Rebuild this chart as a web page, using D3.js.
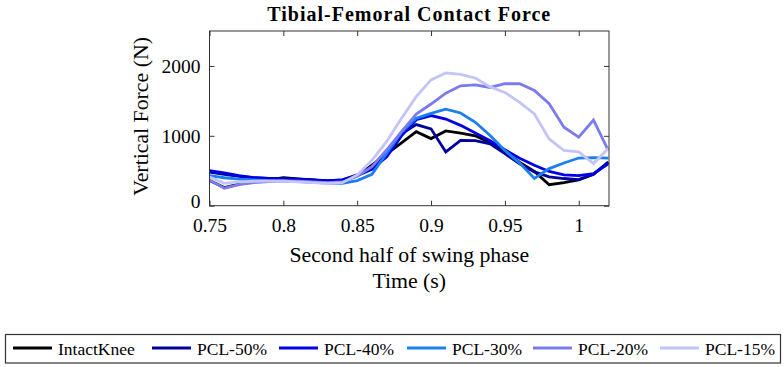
<!DOCTYPE html>
<html><head><meta charset="utf-8">
<script src="https://cdn.jsdelivr.net/npm/d3@7"></script>
<style>body{margin:0;background:#fff}svg{display:block}</style>
</head><body><div id="chart"></div>
<script>
const time = [0.75,0.76,0.77,0.78,0.79,0.80,0.81,0.82,0.83,0.84,0.85,0.86,0.87,0.88,0.89,0.90,0.91,0.92,0.93,0.94,0.95,0.96,0.97,0.98,0.99,1.00,1.01,1.02];
const seriesNames = ["IntactKnee","PCL-50%","PCL-40%","PCL-30%","PCL-20%","PCL-15%"];
const intactKnee = [360,260,310,340,370,400,385,370,350,360,430,580,740,900,1060,960,1070,1040,1000,900,780,620,490,300,330,370,450,620];
const pcl50 = [480,450,420,400,390,390,380,370,360,370,440,560,780,1030,1160,1100,770,935,930,886,744,600,483,412,389,374,450,625];
const pcl40 = [500,470,430,400,390,380,375,365,355,370,430,520,700,1000,1230,1290,1240,1150,1040,930,800,680,580,490,440,430,460,600];
const pcl30 = [430,400,380,370,360,355,345,335,325,320,360,450,750,1050,1250,1320,1380,1327,1194,1005,791,610,390,531,611,682,687,682];
const pcl20 = [370,250,300,330,345,355,350,340,330,340,420,560,800,1060,1310,1455,1610,1716,1730,1692,1745,1745,1650,1460,1124,982,1225,792];
const pcl15 = [410,320,340,350,355,350,340,330,320,330,440,650,920,1250,1560,1800,1900,1880,1825,1700,1621,1479,1313,955,790,770,603,820];
const seriesValues = [intactKnee,pcl50,pcl40,pcl30,pcl20,pcl15];
const colors = ["#000000","#0000a0","#0000e6","#1a7ff0","#7b7bef","#c4c4f7"];
const xTicks = [0.75,0.8,0.85,0.9,0.95,1];
const yTicks = [0,1000,2000];

const FONT="Liberation Serif";
const W=784,H=367;
const svg=d3.select("#chart").append("svg").attr("width",W).attr("height",H);
const L=209.5,R=609,T=31,B=205.7;
const x=d3.scaleLinear().domain([0.75,1.0205]).range([L,R]);
const y=d3.scaleLinear().domain([0,2500]).range([B,T]);
const fmt=d=>String(+d.toFixed(2));

const gx=svg.append("g").attr("transform",`translate(0,${B})`)
  .call(d3.axisBottom(x).tickValues(xTicks).tickFormat(fmt).tickSizeInner(-5).tickSizeOuter(0).tickPadding(12));
const gxt=svg.append("g").attr("transform",`translate(0,${T})`)
  .call(d3.axisTop(x).tickValues(xTicks).tickFormat("").tickSizeInner(-5).tickSizeOuter(0));
const gy=svg.append("g").attr("transform",`translate(${L},0)`)
  .call(d3.axisLeft(y).tickValues(yTicks).tickFormat(fmt).tickSizeInner(-5).tickSizeOuter(0).tickPadding(9));
const gyr=svg.append("g").attr("transform",`translate(${R},0)`)
  .call(d3.axisRight(y).tickValues(yTicks).tickFormat("").tickSizeInner(-5).tickSizeOuter(0));
[gx,gxt,gy,gyr].forEach(g=>{g.select(".domain").remove();g.attr("font-family",FONT).attr("font-size",19.5);g.selectAll("line").attr("stroke","#333");g.selectAll("text").attr("fill","#000");});
gy.selectAll("text").filter(d=>d===0).attr("dy","0.1em");

const line=d3.line().x((d,i)=>x(time[i])).y(d=>y(d));
svg.append("clipPath").attr("id","clip").append("rect").attr("x",L).attr("y",T).attr("width",R-L).attr("height",B-T);
const g=svg.append("g").attr("clip-path","url(#clip)");
seriesValues.forEach((s,k)=>{
  g.append("path").datum(s).attr("d",line).attr("fill","none").attr("stroke",colors[k]).attr("stroke-width",2.8);
});
svg.append("rect").attr("x",L).attr("y",T).attr("width",R-L).attr("height",B-T).attr("fill","none").attr("stroke","#333").attr("stroke-width",1);

const txt=(xx,yy,s,size)=>svg.append("text").attr("x",xx).attr("y",yy).attr("font-family",FONT).attr("font-size",size).attr("fill","#000").text(s);
txt((L+R)/2,21,"Tibial-Femoral Contact Force",20).attr("text-anchor","middle").attr("font-weight","bold").attr("letter-spacing",1);
txt((L+R)/2,262,"Second half of swing phase",21.8).attr("text-anchor","middle");
txt((L+R)/2,288,"Time (s)",21.8).attr("text-anchor","middle");
txt(0,0,"Vertical Force (N)",21.8).attr("text-anchor","middle").attr("transform",`translate(148,${(T+B)/2-2}) rotate(-90)`);

svg.append("rect").attr("x",5.5).attr("y",334.5).attr("width",775).attr("height",28.5).attr("fill","#fff").attr("stroke","#333").attr("stroke-width",1.2);
const swX=[13,152,279,407,533,660];
seriesNames.forEach((n,k)=>{
  svg.append("line").attr("x1",swX[k]).attr("x2",swX[k]+39).attr("y1",348).attr("y2",348).attr("stroke",colors[k]).attr("stroke-width",2.8);
  txt(swX[k]+45,354.5,n,17.5);
});
</script></body></html>
